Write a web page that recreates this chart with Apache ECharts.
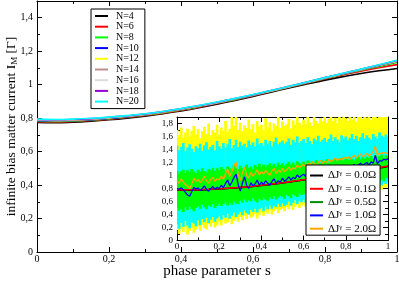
<!DOCTYPE html>
<html><head><meta charset="utf-8">
<script src="https://cdn.jsdelivr.net/npm/echarts/dist/echarts.min.js"></script>
<style>html,body{margin:0;padding:0;background:#fff}#c{width:399px;height:282px}</style>
</head><body><div id="c"></div>
<script>
// ---------- main chart data ----------
const sMain = [0,0.05,0.1,0.15,0.2,0.25,0.3,0.35,0.4,0.45,0.5,0.55,0.6,0.65,0.7,0.75,0.8,0.85,0.9,0.95,1];
const nNames = ['N=4','N=6','N=8','N=10','N=12','N=14','N=16','N=18','N=20'];
const N4  = [0.774,0.773,0.776,0.782,0.790,0.800,0.812,0.826,0.843,0.862,0.883,0.906,0.930,0.955,0.980,1.004,1.027,1.048,1.067,1.083,1.097];
const N6  = [0.778,0.777,0.780,0.786,0.794,0.804,0.816,0.830,0.847,0.866,0.887,0.910,0.934,0.959,0.984,1.009,1.034,1.058,1.080,1.101,1.120];
const N8  = [0.782,0.780,0.783,0.789,0.797,0.807,0.819,0.833,0.850,0.869,0.890,0.912,0.936,0.961,0.986,1.011,1.037,1.062,1.086,1.109,1.132];
const N10 = [0.785,0.783,0.786,0.791,0.799,0.809,0.821,0.835,0.852,0.871,0.891,0.914,0.937,0.962,0.987,1.013,1.039,1.064,1.089,1.113,1.137];
const N12 = [0.787,0.785,0.788,0.793,0.801,0.811,0.822,0.836,0.853,0.872,0.892,0.915,0.938,0.963,0.988,1.014,1.040,1.065,1.090,1.115,1.139];
const N14 = [0.789,0.787,0.790,0.795,0.803,0.812,0.823,0.837,0.854,0.873,0.893,0.916,0.939,0.964,0.989,1.015,1.041,1.066,1.091,1.116,1.141];
const N16 = [0.791,0.789,0.791,0.796,0.804,0.813,0.824,0.838,0.855,0.874,0.894,0.917,0.940,0.964,0.989,1.015,1.041,1.067,1.092,1.117,1.143];
const N18 = [0.792,0.790,0.792,0.797,0.805,0.814,0.825,0.839,0.856,0.875,0.895,0.917,0.940,0.965,0.990,1.016,1.042,1.067,1.092,1.118,1.144];
const N20 = [0.794,0.792,0.794,0.799,0.806,0.815,0.826,0.840,0.857,0.876,0.896,0.918,0.941,0.965,0.990,1.016,1.042,1.068,1.093,1.119,1.146];
const nColors = ['#000000','#ff0000','#00ff00','#0000ff','#ffff00','#bc8f8f','#dcdcdc','#9400d3','#00ffff'];

// ---------- inset data ----------
const sInset = [0,0.01,0.02,0.03,0.04,0.05,0.06,0.07,0.08,0.09,0.1,0.11,0.12,0.13,0.14,0.15,0.16,0.17,0.18,0.19,
0.2,0.21,0.22,0.23,0.24,0.25,0.26,0.27,0.28,0.29,0.3,0.31,0.32,0.33,0.34,0.35,0.36,0.37,0.38,0.39,
0.4,0.41,0.42,0.43,0.44,0.45,0.46,0.47,0.48,0.49,0.5,0.51,0.52,0.53,0.54,0.55,0.56,0.57,0.58,0.59,
0.6,0.61,0.62,0.63,0.64,0.65,0.66,0.67,0.68,0.69,0.7,0.71,0.72,0.73,0.74,0.75,0.76,0.77,0.78,0.79,
0.8,0.81,0.82,0.83,0.84,0.85,0.86,0.87,0.88,0.89,0.9,0.91,0.92,0.93,0.94,0.95,0.96,0.97,0.98,0.99,1];
const yellowTop = [1.70,1.62,1.74,1.58,1.66,1.72,1.60,1.69,1.76,1.63, 1.71,1.57,1.68,1.75,1.64,1.80,1.62,1.70,1.66,1.78,
1.63,1.74,1.69,1.84,1.67,1.72,1.95,1.76,1.93,1.70, 1.81,1.68,1.77,1.73,1.86,1.71,1.79,1.66,1.84,1.75,
1.78,1.70,1.88,1.74,1.82,1.69,1.80,1.76,1.92,1.73, 1.83,1.76,1.79,1.87,1.72,1.85,1.78,1.94,1.81,1.77,
1.86,1.79,1.90,1.82,1.76,1.96,1.84,1.80,1.88,1.83, 1.91,1.81,1.87,1.95,1.84,1.89,1.80,1.93,1.86,1.98,
1.88,1.84,1.97,1.86,1.92,1.83,1.99,1.90,1.87,1.95, 1.89,1.96,1.85,2.00,1.91,1.88,1.98,1.93,1.90,2.02,1.94];
const yellowBot = [0.16,0.10,0.18,0.13,0.20,0.09,0.15,0.19,0.12,0.17, 0.22,0.15,0.24,0.19,0.17,0.25,0.21,0.27,0.20,0.23,
0.29,0.23,0.31,0.26,0.28,0.33,0.25,0.30,0.34,0.29, 0.36,0.31,0.38,0.33,0.40,0.35,0.37,0.41,0.34,0.39,
0.43,0.38,0.44,0.41,0.46,0.40,0.45,0.48,0.42,0.47, 0.49,0.45,0.51,0.48,0.53,0.47,0.52,0.55,0.50,0.54,
0.56,0.52,0.58,0.55,0.53,0.60,0.57,0.59,0.56,0.62, 0.61,0.64,0.60,0.66,0.63,0.65,0.68,0.62,0.67,0.66,
0.70,0.67,0.72,0.69,0.74,0.71,0.68,0.75,0.72,0.73, 0.76,0.73,0.78,0.75,0.79,0.77,0.80,0.78,0.82,0.81,0.83];
const cyanTop = [1.46,1.39,1.44,1.50,1.37,1.43,1.48,1.41,1.36,1.45, 1.42,1.49,1.38,1.46,1.51,1.40,1.44,1.47,1.39,1.53,
1.45,1.41,1.50,1.43,1.48,1.56,1.42,1.47,1.55,1.44, 1.52,1.46,1.49,1.43,1.54,1.47,1.51,1.45,1.57,1.48,
1.50,1.46,1.55,1.49,1.53,1.45,1.52,1.58,1.48,1.51, 1.54,1.49,1.52,1.57,1.47,1.55,1.51,1.60,1.50,1.53,
1.56,1.50,1.59,1.53,1.48,1.57,1.54,1.61,1.52,1.55, 1.58,1.52,1.56,1.63,1.53,1.59,1.55,1.51,1.62,1.57,
1.60,1.54,1.58,1.64,1.56,1.61,1.53,1.59,1.65,1.57, 1.62,1.58,1.55,1.64,1.60,1.57,1.66,1.61,1.59,1.63,1.60];
const cyanBot = [0.25,0.18,0.27,0.21,0.30,0.23,0.19,0.28,0.26,0.22, 0.31,0.24,0.33,0.28,0.35,0.27,0.32,0.36,0.29,0.34,
0.37,0.32,0.39,0.35,0.41,0.34,0.38,0.43,0.36,0.40, 0.44,0.39,0.46,0.42,0.40,0.47,0.44,0.49,0.43,0.48,
0.50,0.45,0.52,0.48,0.54,0.49,0.53,0.51,0.56,0.52, 0.57,0.53,0.55,0.60,0.54,0.58,0.62,0.56,0.61,0.59,
0.63,0.58,0.64,0.61,0.66,0.62,0.68,0.63,0.65,0.69, 0.67,0.71,0.66,0.73,0.69,0.72,0.75,0.70,0.74,0.72,
0.76,0.73,0.78,0.75,0.79,0.77,0.74,0.81,0.78,0.80, 0.82,0.79,0.84,0.81,0.86,0.83,0.88,0.85,0.89,0.87,0.90];
const greenTop = [1.07,1.03,1.06,1.09,1.04,1.08,1.05,1.10,1.06,1.04, 1.09,1.06,1.11,1.07,1.05,1.10,1.08,1.12,1.07,1.11,
1.08,1.13,1.10,1.07,1.14,1.11,1.09,1.16,1.12,1.10, 1.15,1.11,1.13,1.17,1.12,1.14,1.10,1.16,1.13,1.18,
1.14,1.17,1.13,1.16,1.19,1.15,1.18,1.14,1.20,1.16, 1.19,1.15,1.18,1.21,1.17,1.20,1.16,1.22,1.19,1.18,
1.21,1.18,1.23,1.19,1.22,1.20,1.24,1.21,1.19,1.23, 1.22,1.25,1.20,1.24,1.23,1.26,1.22,1.25,1.27,1.23,
1.26,1.24,1.28,1.25,1.23,1.27,1.29,1.25,1.28,1.26, 1.29,1.27,1.30,1.26,1.31,1.28,1.30,1.32,1.27,1.31,1.30];
const greenBot = [0.50,0.46,0.49,0.44,0.51,0.47,0.52,0.48,0.45,0.50, 0.53,0.49,0.55,0.51,0.48,0.54,0.52,0.56,0.50,0.53,
0.57,0.53,0.56,0.59,0.54,0.58,0.55,0.60,0.57,0.56, 0.61,0.58,0.63,0.59,0.62,0.60,0.65,0.61,0.59,0.64,
0.62,0.66,0.63,0.61,0.67,0.64,0.68,0.63,0.66,0.69, 0.67,0.64,0.70,0.68,0.65,0.71,0.69,0.67,0.72,0.70,
0.71,0.74,0.69,0.73,0.72,0.76,0.70,0.74,0.75,0.72, 0.76,0.73,0.78,0.75,0.77,0.74,0.79,0.76,0.78,0.80,
0.78,0.81,0.77,0.80,0.83,0.79,0.82,0.80,0.84,0.81, 0.85,0.83,0.87,0.86,0.90,0.88,0.92,0.94,0.91,0.96,0.95];
const line10 = [0.80,0.79,0.81,0.78,0.74,0.70,0.68,0.75,0.82,0.79, 0.81,0.77,0.80,0.84,0.78,0.76,0.80,0.83,0.79,0.82,
0.80,0.85,0.81,0.88,0.93,0.84,0.90,0.97,1.02,0.86, 0.76,0.88,0.98,0.85,0.80,0.89,0.84,0.87,0.93,0.85,
0.90,0.86,0.92,0.88,0.85,0.91,0.95,0.88,0.92,0.90, 0.96,0.91,0.94,0.98,0.93,0.97,0.95,1.01,0.97,1.00,
1.02,0.98,1.04,1.01,1.06,1.03,1.00,1.05,1.08,1.04, 1.07,1.05,1.10,1.06,1.09,1.12,1.08,1.11,1.09,1.13,
1.11,1.15,1.12,1.14,1.17,1.13,1.16,1.19,1.15,1.18, 1.20,1.16,1.21,1.19,1.31,1.18,1.23,1.22,1.25,1.24,1.26];
const line20 = [0.92,0.88,0.95,0.90,0.86,0.84,0.80,0.87,0.96,0.91, 0.94,0.89,0.93,0.99,0.92,0.88,0.94,0.97,0.91,0.95,
0.93,0.99,0.94,1.03,1.10,0.98,1.06,1.15,1.21,1.02, 0.92,1.04,1.13,1.00,0.96,1.05,0.99,1.03,1.09,1.01,
1.06,1.02,1.08,1.04,1.00,1.07,1.11,1.03,1.08,1.05, 1.11,1.06,1.09,1.13,1.08,1.12,1.10,1.16,1.12,1.15,
1.17,1.13,1.19,1.16,1.21,1.18,1.15,1.20,1.23,1.19, 1.22,1.20,1.25,1.21,1.24,1.27,1.23,1.26,1.24,1.28,
1.26,1.29,1.25,1.28,1.31,1.27,1.30,1.33,1.29,1.31, 1.34,1.30,1.33,1.37,1.45,1.31,1.35,1.33,1.36,1.34,1.35];
const line00 = [0.776,0.775,0.778,0.784,0.792,0.802,0.814,0.828,0.845,0.864,0.885,0.908,0.932,0.957,0.982,1.007,1.033,1.059,1.085,1.111,1.140];
const line01 = [0.780,0.779,0.782,0.788,0.796,0.806,0.818,0.832,0.849,0.868,0.889,0.912,0.936,0.961,0.986,1.011,1.037,1.063,1.089,1.115,1.145];
const line05 = [0.779,0.778,0.781,0.787,0.795,0.805,0.817,0.831,0.848,0.867,0.888,0.911,0.935,0.960,0.985,1.010,1.036,1.062,1.088,1.114,1.143];
const dJ = ['0.0','0.1','0.5','1.0','2.0'];
const dJColors = ['#000000','#ff0000','#008b00','#0000ff','#ffa500'];

// ---------- build ----------
const FONT = "'Liberation Serif','Times New Roman','DejaVu Serif',serif";
const fmt = v => String(+(+v).toFixed(2)).replace('.', ',');
const zip = (xs, ys) => xs.map((x, i) => [x, ys[i]]);
const band = (lo, hi) => sInset.map((x, i) => [x, lo[i], hi[i]]);

function axisBase(extra) {
  return Object.assign({
    type: 'value', min: 0, max: 1, interval: 0.2, nameMoveOverlap: false,
    axisLine: { show: true, onZero: false, lineStyle: { color: '#000', width: 1 } },
    axisTick: { show: true, inside: true, length: 5, lineStyle: { color: '#000', width: 1 } },
    minorTick: { show: true, splitNumber: 2, length: 3, lineStyle: { color: '#000', width: 1 } },
    splitLine: { show: false },
    axisLabel: { color: '#000', fontFamily: FONT, fontSize: 10, formatter: fmt, margin: 2 }
  }, extra);
}

const dx = 0.01;
function renderBand(params, api) {
  const x = api.value(0), lo = api.value(1), hi = api.value(2);
  const p0 = api.coord([x, lo]), p1 = api.coord([x, hi]);
  const w = api.size([dx, 0])[0] + 0.6;
  return { type: 'rect', shape: { x: p0[0] - w / 2, y: p1[1], width: w, height: p0[1] - p1[1] },
           style: { fill: api.visual('color') } };
}

const nData = [N4, N6, N8, N10, N12, N14, N16, N18, N20];
const series = [];
nData.forEach((arr, i) => series.push({
  name: nNames[i], type: 'line', xAxisIndex: 0, yAxisIndex: 0, data: zip(sMain, arr),
  symbol: 'none', smooth: true, lineStyle: { color: nColors[i], width: 1.6 }, itemStyle: { color: nColors[i] }
}));
[['#ffff00', yellowBot, yellowTop], ['#00ffff', cyanBot, cyanTop], ['#00ff00', greenBot, greenTop]].forEach(b => series.push({
  type: 'custom', xAxisIndex: 2, yAxisIndex: 2, renderItem: renderBand, clip: true,
  itemStyle: { color: b[0] }, data: band(b[1], b[2]), silent: true
}));
const dJName = k => 'ΔJγ = ' + dJ[k] + 'Ω';
const insetLines = [
  [zip(sMain, line00), 1.5, true], [zip(sMain, line01), 1.5, true], [zip(sMain, line05), 1.2, true],
  [zip(sInset, line10), 1.3, false], [zip(sInset, line20), 1.3, false]
];
const drawOrder = [2, 0, 1, 3, 4];
drawOrder.forEach(k => series.push({
  name: dJName(k), type: 'line', xAxisIndex: 2, yAxisIndex: 2, data: insetLines[k][0],
  symbol: 'none', smooth: insetLines[k][2], clip: true,
  lineStyle: { color: dJColors[k], width: insetLines[k][1] }, itemStyle: { color: dJColors[k] }
}));

const option = {
  animation: false,
  backgroundColor: '#fff',
  grid: [
    { left: 37, right: 2, top: 1, bottom: 30, outerBoundsMode: 'none', containLabel: false },
    { left: 177, right: 11, top: 117, bottom: 41.5, show: true, backgroundColor: '#fff', borderWidth: 0,
      outerBoundsMode: 'none', containLabel: false }
  ],
  xAxis: [
    axisBase({ gridIndex: 0, position: 'bottom', name: 'phase parameter s', nameLocation: 'middle', nameGap: 12,
      nameTextStyle: { color: '#000', fontFamily: FONT, fontSize: 15 } }),
    axisBase({ gridIndex: 0, position: 'top', axisLabel: { show: false } }),
    axisBase({ gridIndex: 1, position: 'bottom', axisLabel: { color: '#000', fontFamily: FONT, fontSize: 9, formatter: fmt, margin: 2 } }),
    axisBase({ gridIndex: 1, position: 'top', axisLabel: { show: false } })
  ],
  yAxis: [
    axisBase({ gridIndex: 0, position: 'left', max: 1.5,
      axisLabel: { color: '#000', fontFamily: FONT, fontSize: 10, formatter: fmt, margin: 4, showMaxLabel: false },
      name: 'infinite bias matter current I{sub|M} [Γ]', nameLocation: 'middle', nameGap: 18, nameRotate: 90,
      nameTextStyle: { color: '#000', fontFamily: FONT, fontSize: 13.5, lineHeight: 15,
        rich: { sub: { fontFamily: FONT, fontSize: 9, color: '#000', lineHeight: 6, verticalAlign: 'bottom' } } } }),
    axisBase({ gridIndex: 0, position: 'right', max: 1.5, axisLabel: { show: false } }),
    axisBase({ gridIndex: 1, position: 'left', max: 1.9,
      axisLabel: { color: '#000', fontFamily: FONT, fontSize: 9, formatter: fmt, margin: 4, showMaxLabel: false } }),
    axisBase({ gridIndex: 1, position: 'right', max: 1.9, axisLabel: { show: false } })
  ],
  legend: [
    { data: nNames, orient: 'vertical', left: 91, top: 9, itemWidth: 13, itemHeight: 2, itemGap: 0.7, icon: 'rect',
      padding: [2, 6, 2, 4], borderColor: '#000', borderWidth: 1, backgroundColor: '#fff', borderRadius: 0,
      selectedMode: false,
      textStyle: { color: '#000', fontFamily: FONT, fontSize: 10, lineHeight: 10, padding: [0, 0, 0, 3] } },
    { data: [0, 1, 2, 3, 4].map(dJName), orient: 'vertical', left: 306, top: 165, itemWidth: 13, itemHeight: 2, itemGap: 2.3, icon: 'rect',
      padding: [5, 4, 1, 4], borderColor: '#000', borderWidth: 1, backgroundColor: '#fff', borderRadius: 0,
      selectedMode: false,
      formatter: name => name.replace('γ', '{sup|γ}'),
      textStyle: { color: '#000', fontFamily: FONT, fontSize: 11, lineHeight: 11,
        rich: { sup: { fontFamily: FONT, fontSize: 7, color: '#000', lineHeight: 5, verticalAlign: 'top' } } } }
  ],
  series: series
};

const chart = echarts.init(document.getElementById('c'), null, { renderer: 'canvas' });
chart.setOption(option);
</script></body></html>
